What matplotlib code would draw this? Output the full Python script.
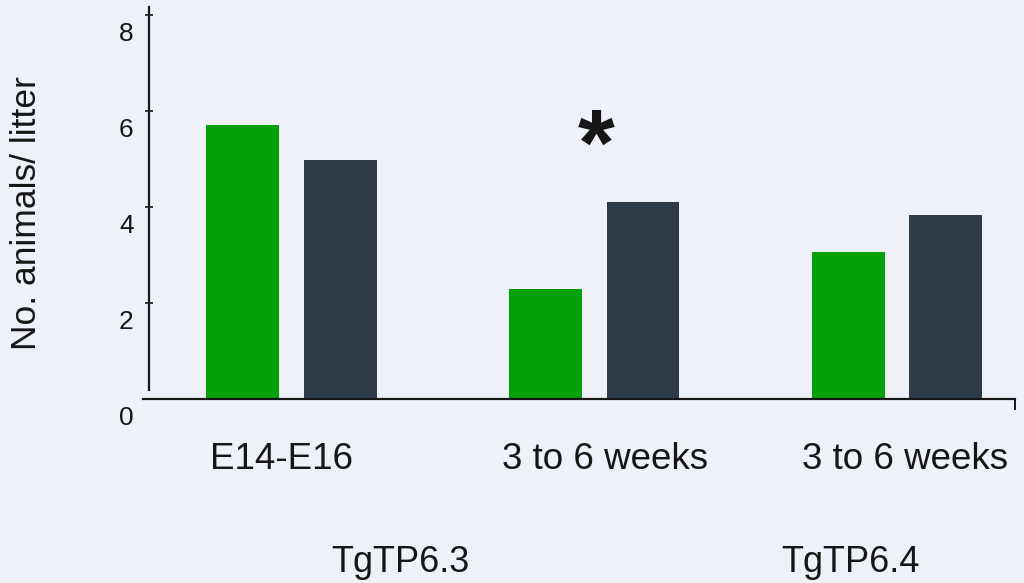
import matplotlib
matplotlib.use("Agg")
import matplotlib.pyplot as plt
import matplotlib.transforms as mtransforms
import numpy as np

# Litter data
categories = ["E14-E16", "3 to 6 weeks", "3 to 6 weeks"]
green_values = [5.69, 2.29, 3.06]
dark_values = [4.96, 4.10, 3.83]
line_labels = ["TgTP6.3", "TgTP6.4"]
yticks = [0, 2, 4, 6, 8]
ylabel = "No. animals/ litter"

BG = "#eef2f8"
GREEN = "#06a00b"
DARK = "#2c3a4a"
INK = "#161616"

plt.rcParams["font.family"] = ["Liberation Sans", "DejaVu Sans"]

W, H = 1024, 583
fig = plt.figure(figsize=(W / 100, H / 100), dpi=100, facecolor=BG)

# axes geometry in pixels
ax_left, ax_right = 143, 1015
ax_top, ax_bottom = 7, 398.5
ax = fig.add_axes([ax_left / W, 1 - ax_bottom / H,
                   (ax_right - ax_left) / W, (ax_bottom - ax_top) / H])
ax.set_facecolor(BG)

px_per_unit_x = 302.75
px_per_unit_y = 48.0
center0_px = 291.5
ax.set_xlim((ax_left - center0_px) / px_per_unit_x,
            (ax_right - center0_px) / px_per_unit_x)
ax.set_ylim(0, (ax_bottom - ax_top) / px_per_unit_y)

x = np.arange(len(categories))
bw = 0.241
off = 0.161
ax.bar(x - off, green_values, width=bw, color=GREEN, zorder=2)
ax.bar(x + off, dark_values, width=bw, color=DARK, zorder=2)

# spines
for s in ("top", "right"):
    ax.spines[s].set_visible(False)
ax.spines["left"].set_position(("data", (149 - center0_px) / px_per_unit_x))
ax.spines["left"].set_bounds(0.18, ax.get_ylim()[1])
for s in ("left", "bottom"):
    ax.spines[s].set_color(INK)
    ax.spines[s].set_linewidth(1.6)

# y ticks, labels sitting slightly below each tick
ax.set_yticks(yticks)
ax.set_yticklabels([str(v) for v in yticks], fontsize=19, color=INK)
ax.tick_params(axis="y", direction="inout", length=6, width=1.2, color=INK, pad=8)
shift = mtransforms.ScaledTranslation(0, -17 / 100, fig.dpi_scale_trans)
for lab in ax.get_yticklabels():
    lab.set_transform(lab.get_transform() + shift)

# category labels under each group (small horizontal nudges, in pixels)
label_nudge_px = [-10, 11, 8]
ax.set_xticks(x + np.array(label_nudge_px) / px_per_unit_x)
ax.set_xticklabels(categories, fontsize=26.5, color=INK)
ax.tick_params(axis="x", which="major", length=0, pad=31)
ax.set_xticks([ax.get_xlim()[1]], minor=True)
ax.tick_params(axis="x", which="minor", direction="out", length=8, width=1.4, color=INK)

# significance mark
ax.text(1.005, 4.67, "*", ha="center", va="baseline", fontsize=68,
        fontweight="bold", color=INK, zorder=3)

# transgenic line labels
for lx, name in zip([400, 850], line_labels):
    fig.text(lx / W, 1 - 545 / H, name, ha="center", va="top", fontsize=26, color=INK)

fig.text(27 / W, 1 - 213 / H, ylabel, rotation=90, ha="center", va="center",
         fontsize=25.5, color=INK)

fig.savefig("out.png", dpi=100, facecolor=BG)
